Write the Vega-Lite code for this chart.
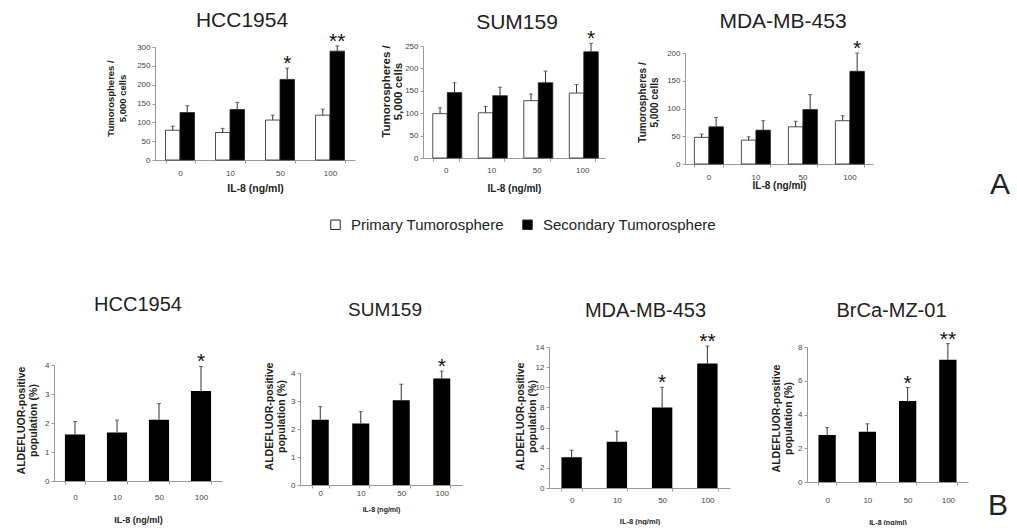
{
  "$schema": "https://vega.github.io/schema/vega-lite/v6.json",
  "background": "white",
  "padding": {"left": 0, "top": 9, "right": 0, "bottom": 0},
  "autosize": {"type": "pad"},
  "datasets": {
    "tumor": [
      {"panel": "HCC1954", "dose": "0", "series": "Primary Tumorosphere", "mean": 79, "upper": 90, "sig": ""},
      {"panel": "HCC1954", "dose": "0", "series": "Secondary Tumorosphere", "mean": 126, "upper": 144, "sig": ""},
      {"panel": "HCC1954", "dose": "10", "series": "Primary Tumorosphere", "mean": 73, "upper": 84, "sig": ""},
      {"panel": "HCC1954", "dose": "10", "series": "Secondary Tumorosphere", "mean": 134, "upper": 153, "sig": ""},
      {"panel": "HCC1954", "dose": "50", "series": "Primary Tumorosphere", "mean": 106, "upper": 119, "sig": ""},
      {"panel": "HCC1954", "dose": "50", "series": "Secondary Tumorosphere", "mean": 214, "upper": 244, "sig": "*"},
      {"panel": "HCC1954", "dose": "100", "series": "Primary Tumorosphere", "mean": 119, "upper": 135, "sig": ""},
      {"panel": "HCC1954", "dose": "100", "series": "Secondary Tumorosphere", "mean": 289, "upper": 303, "sig": "**"},
      {"panel": "SUM159", "dose": "0", "series": "Primary Tumorosphere", "mean": 99, "upper": 112, "sig": ""},
      {"panel": "SUM159", "dose": "0", "series": "Secondary Tumorosphere", "mean": 146, "upper": 168, "sig": ""},
      {"panel": "SUM159", "dose": "10", "series": "Primary Tumorosphere", "mean": 101, "upper": 115, "sig": ""},
      {"panel": "SUM159", "dose": "10", "series": "Secondary Tumorosphere", "mean": 139, "upper": 158, "sig": ""},
      {"panel": "SUM159", "dose": "50", "series": "Primary Tumorosphere", "mean": 128, "upper": 143, "sig": ""},
      {"panel": "SUM159", "dose": "50", "series": "Secondary Tumorosphere", "mean": 168, "upper": 194, "sig": ""},
      {"panel": "SUM159", "dose": "100", "series": "Primary Tumorosphere", "mean": 145, "upper": 164, "sig": ""},
      {"panel": "SUM159", "dose": "100", "series": "Secondary Tumorosphere", "mean": 237, "upper": 256, "sig": "*"},
      {"panel": "MDA-MB-453", "dose": "0", "series": "Primary Tumorosphere", "mean": 48, "upper": 54, "sig": ""},
      {"panel": "MDA-MB-453", "dose": "0", "series": "Secondary Tumorosphere", "mean": 67, "upper": 84, "sig": ""},
      {"panel": "MDA-MB-453", "dose": "10", "series": "Primary Tumorosphere", "mean": 43, "upper": 49, "sig": ""},
      {"panel": "MDA-MB-453", "dose": "10", "series": "Secondary Tumorosphere", "mean": 61, "upper": 78, "sig": ""},
      {"panel": "MDA-MB-453", "dose": "50", "series": "Primary Tumorosphere", "mean": 67, "upper": 77, "sig": ""},
      {"panel": "MDA-MB-453", "dose": "50", "series": "Secondary Tumorosphere", "mean": 98, "upper": 125, "sig": ""},
      {"panel": "MDA-MB-453", "dose": "100", "series": "Primary Tumorosphere", "mean": 78, "upper": 87, "sig": ""},
      {"panel": "MDA-MB-453", "dose": "100", "series": "Secondary Tumorosphere", "mean": 167, "upper": 200, "sig": "*"}
    ],
    "aldh": [
      {"panel": "HCC1954", "dose": "0", "mean": 1.6, "upper": 2.05, "sig": ""},
      {"panel": "HCC1954", "dose": "10", "mean": 1.67, "upper": 2.1, "sig": ""},
      {"panel": "HCC1954", "dose": "50", "mean": 2.11, "upper": 2.67, "sig": ""},
      {"panel": "HCC1954", "dose": "100", "mean": 3.1, "upper": 3.95, "sig": "*"},
      {"panel": "SUM159", "dose": "0", "mean": 2.33, "upper": 2.8, "sig": ""},
      {"panel": "SUM159", "dose": "10", "mean": 2.2, "upper": 2.62, "sig": ""},
      {"panel": "SUM159", "dose": "50", "mean": 3.03, "upper": 3.6, "sig": ""},
      {"panel": "SUM159", "dose": "100", "mean": 3.8, "upper": 4.07, "sig": "*"},
      {"panel": "MDA-MB-453", "dose": "0", "mean": 3.05, "upper": 3.75, "sig": ""},
      {"panel": "MDA-MB-453", "dose": "10", "mean": 4.6, "upper": 5.65, "sig": ""},
      {"panel": "MDA-MB-453", "dose": "50", "mean": 8.0, "upper": 10.0, "sig": "*"},
      {"panel": "MDA-MB-453", "dose": "100", "mean": 12.35, "upper": 14.1, "sig": "**"},
      {"panel": "BrCa-MZ-01", "dose": "0", "mean": 2.78, "upper": 3.23, "sig": ""},
      {"panel": "BrCa-MZ-01", "dose": "10", "mean": 2.98, "upper": 3.45, "sig": ""},
      {"panel": "BrCa-MZ-01", "dose": "50", "mean": 4.8, "upper": 5.6, "sig": "*"},
      {"panel": "BrCa-MZ-01", "dose": "100", "mean": 7.24, "upper": 8.2, "sig": "**"}
    ],
    "labA": [{"label": "A"}],
    "labB": [{"label": "B"}],
    "none": []
  },
  "spacing": 62,
  "vconcat": [
    {
      "hconcat": [
        {"width": 155, "height": 10, "data": {"name": "none"}, "mark": "point"},
        {
          "width": 200, "height": 118,
          "title": {"text": "HCC1954", "fontSize": 21, "dx": -13, "offset": 0},
          "data": {"name": "tumor"},
          "transform": [{"filter": "datum.panel === 'HCC1954'"}],
          "encoding": {
            "x": {"field": "dose", "type": "ordinal", "sort": ["0", "10", "50", "100"],
                  "scale": {"paddingInner": 0.42, "paddingOuter": 0.21},
                  "axis": {"title": "IL-8 (ng/ml)", "titleFontSize": 10.5, "labelPadding": 10, "titleY": 28, "offset": -4}},
            "xOffset": {"field": "series", "type": "nominal", "sort": ["Primary Tumorosphere", "Secondary Tumorosphere"]}
          },
          "layer": [
            {"mark": {"type": "bar", "stroke": "#222", "strokeWidth": 0.8},
             "encoding": {
               "y": {"field": "mean", "type": "quantitative", "scale": {"domain": [0, 300], "range": [114, 1], "nice": false},
                     "axis": {"title": ["Tumorospheres /", "5,000 cells"], "values": [0, 50, 100, 150, 200, 250, 300], "tickCount": 20, "format": "d", "titleFontSize": 9.5, "titleX": -45, "titleY": 52}},
               "fill": {"field": "series", "type": "nominal", "scale": {"domain": ["Primary Tumorosphere", "Secondary Tumorosphere"], "range": ["#ffffff", "#000000"]}, "legend": null}}},
            {"mark": {"type": "rule", "color": "#333", "strokeWidth": 1},
             "encoding": {"y": {"field": "mean", "type": "quantitative"}, "y2": {"field": "upper"}}},
            {"mark": {"type": "tick", "color": "#333", "size": 4, "thickness": 1},
             "encoding": {"y": {"field": "upper", "type": "quantitative"}}},
            {"mark": {"type": "text", "fontSize": 21, "baseline": "alphabetic", "dy": 2, "color": "#111"},
             "encoding": {"y": {"field": "upper", "type": "quantitative"}, "text": {"field": "sig"}}}
          ]
        },
        {"width": 68, "height": 10, "data": {"name": "none"}, "mark": "point"},
        {
          "width": 182, "height": 118,
          "title": {"text": "SUM159", "fontSize": 21, "dx": 3, "offset": -4.5},
          "data": {"name": "tumor"},
          "transform": [{"filter": "datum.panel === 'SUM159'"}],
          "encoding": {
            "x": {"field": "dose", "type": "ordinal", "sort": ["0", "10", "50", "100"],
                  "scale": {"paddingInner": 0.43, "paddingOuter": 0.215},
                  "axis": {"title": "IL-8 (ng/ml)", "titleFontSize": 10, "labelPadding": 9, "titleY": 30, "offset": -6}},
            "xOffset": {"field": "series", "type": "nominal", "sort": ["Primary Tumorosphere", "Secondary Tumorosphere"]}
          },
          "layer": [
            {"mark": {"type": "bar", "stroke": "#222", "strokeWidth": 0.8},
             "encoding": {
               "y": {"field": "mean", "type": "quantitative", "scale": {"domain": [0, 250], "range": [112, 0], "nice": false},
                     "axis": {"title": ["Tumorospheres /", "5,000 cells"], "values": [0, 50, 100, 150, 200, 250], "tickCount": 20, "format": "d", "titleFontSize": 11.5, "titleX": -37, "titleY": 45}},
               "fill": {"field": "series", "type": "nominal", "scale": {"domain": ["Primary Tumorosphere", "Secondary Tumorosphere"], "range": ["#ffffff", "#000000"]},
                        "legend": {"orient": "none", "direction": "horizontal", "legendX": -95, "legendY": 171, "title": null, "padding": 0,
                                   "symbolType": "square", "symbolSize": 90, "symbolStrokeColor": "#222", "symbolStrokeWidth": 1,
                                   "labelFont": "Liberation Sans", "labelFontSize": 15, "labelColor": "#222", "labelOffset": 8, "labelLimit": 400, "columnPadding": 16}}}},
            {"mark": {"type": "rule", "color": "#333", "strokeWidth": 1},
             "encoding": {"y": {"field": "mean", "type": "quantitative"}, "y2": {"field": "upper"}}},
            {"mark": {"type": "tick", "color": "#333", "size": 4, "thickness": 1},
             "encoding": {"y": {"field": "upper", "type": "quantitative"}}},
            {"mark": {"type": "text", "fontSize": 21, "baseline": "alphabetic", "dy": 2, "color": "#111"},
             "encoding": {"y": {"field": "upper", "type": "quantitative"}, "text": {"field": "sig"}}}
          ]
        },
        {"width": 80, "height": 10, "data": {"name": "none"}, "mark": "point"},
        {
          "width": 188, "height": 118,
          "title": {"text": "MDA-MB-453", "fontSize": 21, "dx": 4, "offset": 6.5},
          "data": {"name": "tumor"},
          "transform": [{"filter": "datum.panel === 'MDA-MB-453'"}],
          "encoding": {
            "x": {"field": "dose", "type": "ordinal", "sort": ["0", "10", "50", "100"],
                  "scale": {"paddingInner": 0.4, "paddingOuter": 0.2},
                  "axis": {"title": "IL-8 (ng/ml)", "titleFontSize": 10, "labelPadding": 10, "titleY": 21, "offset": 0}},
            "xOffset": {"field": "series", "type": "nominal", "sort": ["Primary Tumorosphere", "Secondary Tumorosphere"]}
          },
          "layer": [
            {"mark": {"type": "bar", "stroke": "#222", "strokeWidth": 0.8},
             "encoding": {
               "y": {"field": "mean", "type": "quantitative", "scale": {"domain": [0, 200], "range": [118, 7], "nice": false},
                     "axis": {"title": ["Tumorospheres /", "5,000 cells"], "values": [0, 50, 100, 150, 200], "tickCount": 20, "format": "d", "titleFontSize": 10, "titleX": -43, "titleY": 56}},
               "fill": {"field": "series", "type": "nominal", "scale": {"domain": ["Primary Tumorosphere", "Secondary Tumorosphere"], "range": ["#ffffff", "#000000"]}, "legend": null}}},
            {"mark": {"type": "rule", "color": "#333", "strokeWidth": 1},
             "encoding": {"y": {"field": "mean", "type": "quantitative"}, "y2": {"field": "upper"}}},
            {"mark": {"type": "tick", "color": "#333", "size": 4, "thickness": 1},
             "encoding": {"y": {"field": "upper", "type": "quantitative"}}},
            {"mark": {"type": "text", "fontSize": 21, "baseline": "alphabetic", "dy": 2, "color": "#111"},
             "encoding": {"y": {"field": "upper", "type": "quantitative"}, "text": {"field": "sig"}}}
          ]
        },
        {"width": 117, "height": 10, "data": {"name": "none"}, "mark": "point"},
        {"width": 20, "height": 118, "data": {"name": "labA"},
         "mark": {"type": "text", "fontSize": 30, "baseline": "middle", "dy": 80, "font": "Liberation Sans", "color": "#222"},
         "encoding": {"text": {"field": "label"}}}
      ],
      "spacing": 0,
      "bounds": "flush",
      "resolve": {"scale": {"fill": "independent"}, "legend": {"fill": "independent"}}
    },
    {
      "hconcat": [
        {"width": 54, "height": 10, "data": {"name": "none"}, "mark": "point"},
        {
          "width": 168, "height": 141,
          "title": {"text": "HCC1954", "fontSize": 20, "dx": 0, "offset": 32},
          "data": {"name": "aldh"},
          "transform": [{"filter": "datum.panel === 'HCC1954'"}],
          "encoding": {
            "x": {"field": "dose", "type": "ordinal", "sort": ["0", "10", "50", "100"],
                  "scale": {"paddingInner": 0.52, "paddingOuter": 0.26},
                  "axis": {"title": "IL-8 (ng/ml)", "titleFontSize": 9, "labelPadding": 13, "titleY": 38, "offset": -7}}
          },
          "layer": [
            {"mark": {"type": "bar", "color": "#000"},
             "encoding": {"y": {"field": "mean", "type": "quantitative", "scale": {"domain": [0, 4], "range": [134, 18], "nice": false},
                     "axis": {"title": ["ALDEFLUOR-positive", "population (%)"], "values": [0, 1, 2, 3, 4], "tickCount": 20, "format": "d", "titleFontSize": 10.5, "titleX": -33, "titleY": 73}}}},
            {"mark": {"type": "rule", "color": "#333", "strokeWidth": 1},
             "encoding": {"y": {"field": "mean", "type": "quantitative"}, "y2": {"field": "upper"}}},
            {"mark": {"type": "tick", "color": "#333", "size": 4, "thickness": 1},
             "encoding": {"y": {"field": "upper", "type": "quantitative"}}},
            {"mark": {"type": "text", "fontSize": 21, "baseline": "alphabetic", "dy": 2, "color": "#111"},
             "encoding": {"y": {"field": "upper", "type": "quantitative"}, "text": {"field": "sig"}}}
          ]
        },
        {"width": 78, "height": 10, "data": {"name": "none"}, "mark": "point"},
        {
          "width": 162, "height": 141,
          "title": {"text": "SUM159", "fontSize": 19, "dx": 4, "offset": 27},
          "data": {"name": "aldh"},
          "transform": [{"filter": "datum.panel === 'SUM159'"}],
          "encoding": {
            "x": {"field": "dose", "type": "ordinal", "sort": ["0", "10", "50", "100"],
                  "scale": {"paddingInner": 0.58, "paddingOuter": 0.29},
                  "axis": {"title": "IL-8 (ng/ml)", "titleFontSize": 7, "labelPadding": 5, "titleY": 24, "offset": -3}}
          },
          "layer": [
            {"mark": {"type": "bar", "color": "#000"},
             "encoding": {"y": {"field": "mean", "type": "quantitative", "scale": {"domain": [0, 4], "range": [138, 26], "nice": false},
                     "axis": {"title": ["ALDEFLUOR-positive", "population (%)"], "values": [0, 1, 2, 3, 4], "tickCount": 20, "format": "d", "titleFontSize": 10.5, "titleX": -31, "titleY": 69}}}},
            {"mark": {"type": "rule", "color": "#333", "strokeWidth": 1},
             "encoding": {"y": {"field": "mean", "type": "quantitative"}, "y2": {"field": "upper"}}},
            {"mark": {"type": "tick", "color": "#333", "size": 4, "thickness": 1},
             "encoding": {"y": {"field": "upper", "type": "quantitative"}}},
            {"mark": {"type": "text", "fontSize": 21, "baseline": "alphabetic", "dy": 2, "color": "#111"},
             "encoding": {"y": {"field": "upper", "type": "quantitative"}, "text": {"field": "sig"}}}
          ]
        },
        {"width": 87, "height": 10, "data": {"name": "none"}, "mark": "point"},
        {
          "width": 181, "height": 141,
          "title": {"text": "MDA-MB-453", "fontSize": 20, "dx": 6, "offset": 10},
          "data": {"name": "aldh"},
          "transform": [{"filter": "datum.panel === 'MDA-MB-453'"}],
          "encoding": {
            "x": {"field": "dose", "type": "ordinal", "sort": ["0", "10", "50", "100"],
                  "scale": {"paddingInner": 0.55, "paddingOuter": 0.275},
                  "axis": {"title": "IL-8 (ng/ml)", "titleFontSize": 7.5, "labelPadding": 9, "titleY": 33, "offset": 0}}
          },
          "layer": [
            {"mark": {"type": "bar", "color": "#000"},
             "encoding": {"y": {"field": "mean", "type": "quantitative", "scale": {"domain": [0, 14], "range": [141, 0], "nice": false},
                     "axis": {"title": ["ALDEFLUOR-positive", "population (%)"], "values": [0, 2, 4, 6, 8, 10, 12, 14], "tickCount": 20, "format": "d", "titleFontSize": 10.5, "titleX": -29, "titleY": 69}}}},
            {"mark": {"type": "rule", "color": "#333", "strokeWidth": 1},
             "encoding": {"y": {"field": "mean", "type": "quantitative"}, "y2": {"field": "upper"}}},
            {"mark": {"type": "tick", "color": "#333", "size": 4, "thickness": 1},
             "encoding": {"y": {"field": "upper", "type": "quantitative"}}},
            {"mark": {"type": "text", "fontSize": 21, "baseline": "alphabetic", "dy": 2, "color": "#111"},
             "encoding": {"y": {"field": "upper", "type": "quantitative"}, "text": {"field": "sig"}}}
          ]
        },
        {"width": 77, "height": 10, "data": {"name": "none"}, "mark": "point"},
        {
          "width": 161, "height": 141,
          "title": {"text": "BrCa-MZ-01", "fontSize": 20, "dx": 4, "offset": 8},
          "data": {"name": "aldh"},
          "transform": [{"filter": "datum.panel === 'BrCa-MZ-01'"}],
          "encoding": {
            "x": {"field": "dose", "type": "ordinal", "sort": ["0", "10", "50", "100"],
                  "scale": {"paddingInner": 0.57, "paddingOuter": 0.285},
                  "axis": {"title": "IL-8 (ng/ml)", "titleFontSize": 7, "labelPadding": 15, "titleY": 40, "offset": -6}}
          },
          "layer": [
            {"mark": {"type": "bar", "color": "#000"},
             "encoding": {"y": {"field": "mean", "type": "quantitative", "scale": {"domain": [0, 8], "range": [135, 0], "nice": false},
                     "axis": {"title": ["ALDEFLUOR-positive", "population (%)"], "values": [0, 2, 4, 6, 8], "tickCount": 20, "format": "d", "titleFontSize": 10.5, "titleX": -31, "titleY": 71}}}},
            {"mark": {"type": "rule", "color": "#333", "strokeWidth": 1},
             "encoding": {"y": {"field": "mean", "type": "quantitative"}, "y2": {"field": "upper"}}},
            {"mark": {"type": "tick", "color": "#333", "size": 4, "thickness": 1},
             "encoding": {"y": {"field": "upper", "type": "quantitative"}}},
            {"mark": {"type": "text", "fontSize": 21, "baseline": "alphabetic", "dy": 2, "color": "#111"},
             "encoding": {"y": {"field": "upper", "type": "quantitative"}, "text": {"field": "sig"}}}
          ]
        },
        {"width": 20, "height": 10, "data": {"name": "none"}, "mark": "point"},
        {"width": 20, "height": 141, "data": {"name": "labB"},
         "mark": {"type": "text", "fontSize": 30, "baseline": "middle", "dy": 88, "font": "Liberation Sans", "color": "#222"},
         "encoding": {"text": {"field": "label"}}}
      ],
      "spacing": 0,
      "bounds": "flush"
    }
  ],
  "config": {
    "font": "Liberation Sans",
    "view": {"stroke": null},
    "axis": {"labelFont": "Liberation Sans", "titleFont": "Liberation Sans", "labelFontSize": 8, "labelColor": "#444", "labelOverlap": false,
             "domainColor": "#999", "tickColor": "#999", "tickSize": 3, "grid": false, "titleFontWeight": "bold", "titleColor": "#222"},
    "axisX": {"labelAngle": 0, "labelBaseline": "middle", "tickBand": "extent", "titleBaseline": "middle"},
    "axisY": {"titleAngle": -90, "titleBaseline": "middle", "titleAlign": "center", "titleLineHeight": 12},
    "title": {"font": "Liberation Sans", "fontWeight": "normal", "color": "#222", "anchor": "middle", "baseline": "alphabetic"}
  }
}
